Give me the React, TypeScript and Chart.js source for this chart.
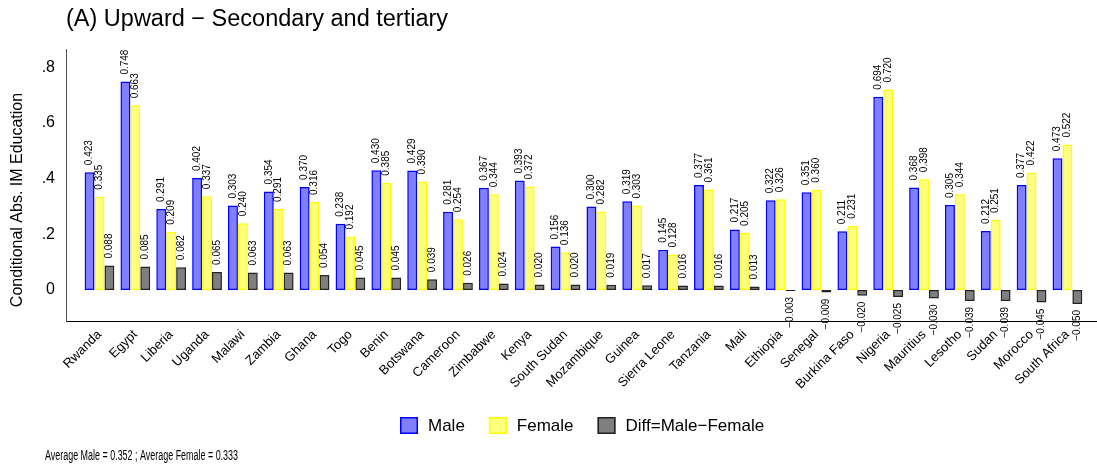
import React, { useEffect, useRef } from "react";
import { Chart, registerables } from "chart.js";

Chart.register(...registerables);

const FONT = "'Liberation Sans', Arial, Helvetica, sans-serif";

const TITLE = "(A) Upward \u2212 Secondary and tertiary";
const Y_TITLE = "Conditional Abs. IM Education";
const FOOTER = "Average Male = 0.352 ; Average Female = 0.333";

const countries = [
  "Rwanda", "Egypt", "Liberia", "Uganda", "Malawi", "Zambia", "Ghana", "Togo",
  "Benin", "Botswana", "Cameroon", "Zimbabwe", "Kenya", "South Sudan",
  "Mozambique", "Guinea", "Sierra Leone", "Tanzania", "Mali", "Ethiopia",
  "Senegal", "Burkina Faso", "Nigeria", "Mauritius", "Lesotho", "Sudan",
  "Morocco", "South Africa",
];

const male = [
  0.423, 0.748, 0.291, 0.402, 0.303, 0.354, 0.370, 0.238, 0.430, 0.429, 0.281,
  0.367, 0.393, 0.156, 0.300, 0.319, 0.145, 0.377, 0.217, 0.322, 0.351, 0.211,
  0.694, 0.368, 0.305, 0.212, 0.377, 0.473,
];

const female = [
  0.335, 0.663, 0.209, 0.337, 0.240, 0.291, 0.316, 0.192, 0.385, 0.390, 0.254,
  0.344, 0.372, 0.136, 0.282, 0.303, 0.128, 0.361, 0.205, 0.326, 0.360, 0.231,
  0.720, 0.398, 0.344, 0.251, 0.422, 0.522,
];

const diff = [
  0.088, 0.085, 0.082, 0.065, 0.063, 0.063, 0.054, 0.045, 0.045, 0.039, 0.026,
  0.024, 0.020, 0.020, 0.019, 0.017, 0.016, 0.016, 0.013, -0.003, -0.009, -0.020,
  -0.025, -0.030, -0.039, -0.039, -0.045, -0.050,
];

const yTicks = [0, 0.2, 0.4, 0.6, 0.8];
const legendLabels = ["Male", "Female", "Diff=Male\u2212Female"];

const fmt = (v: number) => (v < 0 ? "\u2212" + Math.abs(v).toFixed(3) : v.toFixed(3));

const valueLabels = {
  id: "valueLabels",
  afterDatasetsDraw(chart: any) {
    const ctx = chart.ctx;
    ctx.save();
    ctx.font = `10px ${FONT}`;
    ctx.fillStyle = "#000";
    ctx.textBaseline = "middle";
    chart.data.datasets.forEach((ds: any, di: number) => {
      const meta = chart.getDatasetMeta(di);
      meta.data.forEach((bar: any, i: number) => {
        const v = ds.data[i];
        ctx.save();
        if (v >= 0) {
          ctx.translate(bar.x, bar.y - 7);
          ctx.rotate(-Math.PI / 2);
          ctx.textAlign = "left";
        } else {
          ctx.translate(bar.x, bar.y + 6);
          ctx.rotate(-Math.PI / 2);
          ctx.textAlign = "right";
        }
        ctx.fillText(fmt(v), 0, 0);
        ctx.restore();
      });
    });
    ctx.restore();
  },
};

const decor = {
  id: "decor",
  afterDraw(chart: any) {
    const ctx = chart.ctx;
    ctx.save();
    ctx.fillStyle = "#000";
    // title
    ctx.font = `23.5px ${FONT}`;
    ctx.textAlign = "left";
    ctx.textBaseline = "middle";
    ctx.fillText(TITLE, 66, 20);
    // y title
    ctx.save();
    ctx.translate(18, 200);
    ctx.rotate(-Math.PI / 2);
    ctx.textAlign = "center";
    ctx.font = `16px ${FONT}`;
    ctx.fillText(Y_TITLE, 0, 0);
    ctx.restore();
    // legend
    ctx.font = `17px ${FONT}`;
    let x = 400;
    const yTop = 417;
    chart.data.datasets.forEach((ds: any, i: number) => {
      ctx.fillStyle = "#fff";
      ctx.fillRect(x, yTop, 18, 17);
      ctx.fillStyle = ds.backgroundColor;
      ctx.fillRect(x, yTop, 18, 17);
      ctx.strokeStyle = ds.borderColor;
      ctx.lineWidth = 1.5;
      ctx.strokeRect(x + 0.75, yTop + 0.75, 16.5, 15.5);
      ctx.fillStyle = "#000";
      ctx.textAlign = "left";
      ctx.textBaseline = "middle";
      const t = legendLabels[i];
      ctx.fillText(t, x + 28, yTop + 9);
      x += 28 + ctx.measureText(t).width + 24;
    });
    // footer
    ctx.font = `14px ${FONT}`;
    const w = ctx.measureText(FOOTER).width;
    ctx.save();
    ctx.translate(45, 456);
    ctx.scale(193 / w, 1);
    ctx.textAlign = "left";
    ctx.textBaseline = "middle";
    ctx.fillText(FOOTER, 0, 0);
    ctx.restore();
    ctx.restore();
  },
};

export default function App() {
  const ref = useRef<HTMLCanvasElement | null>(null);
  useEffect(() => {
    if (!ref.current) return;
    const chart = new Chart(ref.current, {
      type: "bar",
      data: {
        labels: countries,
        datasets: [
          {
            label: legendLabels[0],
            data: male,
            backgroundColor: "rgba(0,0,255,0.5)",
            borderColor: "#0000ff",
            borderWidth: 1.5,
            borderSkipped: false,
          },
          {
            label: legendLabels[1],
            data: female,
            backgroundColor: "rgba(255,255,0,0.5)",
            borderColor: "#ffff00",
            borderWidth: 1.5,
            borderSkipped: false,
          },
          {
            label: legendLabels[2],
            data: diff,
            backgroundColor: "rgba(0,0,0,0.5)",
            borderColor: "#222222",
            borderWidth: 1.5,
            borderSkipped: false,
          },
        ],
      },
      options: {
        responsive: false,
        animation: false,
        events: [],
        layout: { padding: { top: 49, left: 0, right: 0, bottom: 0 } },
        datasets: { bar: { categoryPercentage: 0.83, barPercentage: 1.0 } },
        plugins: {
          legend: { display: false },
          title: { display: false },
          tooltip: { enabled: false },
        },
        scales: {
          x: {
            type: "category",
            offset: true,
            grid: { display: false, drawTicks: false },
            border: { display: true, color: "#000", width: 1 },
            ticks: {
              maxRotation: 45,
              minRotation: 45,
              autoSkip: false,
              padding: 6,
              color: "#000",
              font: { family: FONT, size: 13 },
            },
            afterBuildTicks: (s: any) => {
              s._startValue = -0.934;
              s._valueRange = 28.76;
            },
            afterFit: (s: any) => {
              s.height = 145;
            },
          },
          y: {
            min: -0.111,
            max: 0.865,
            grid: { display: false, drawTicks: false },
            border: { display: true, color: "#555", width: 1 },
            ticks: {
              padding: 11,
              color: "#000",
              font: { family: FONT, size: 16 },
              callback: (v: any) => (v === 0 ? "0" : Number(v).toFixed(1).replace(/^0/, "")),
            },
            afterBuildTicks: (s: any) => {
              s.ticks = yTicks.map((v) => ({ value: v }));
            },
            afterFit: (s: any) => {
              s.width = 66;
            },
          },
        },
      },
      plugins: [valueLabels, decor],
    });
    return () => chart.destroy();
  }, []);
  return (
    <div style={{ position: "fixed", left: 0, top: 0, width: 1097, height: 466, background: "#fff" }}>
      <canvas ref={ref} width={1097} height={466} style={{ display: "block" }} />
    </div>
  );
}
